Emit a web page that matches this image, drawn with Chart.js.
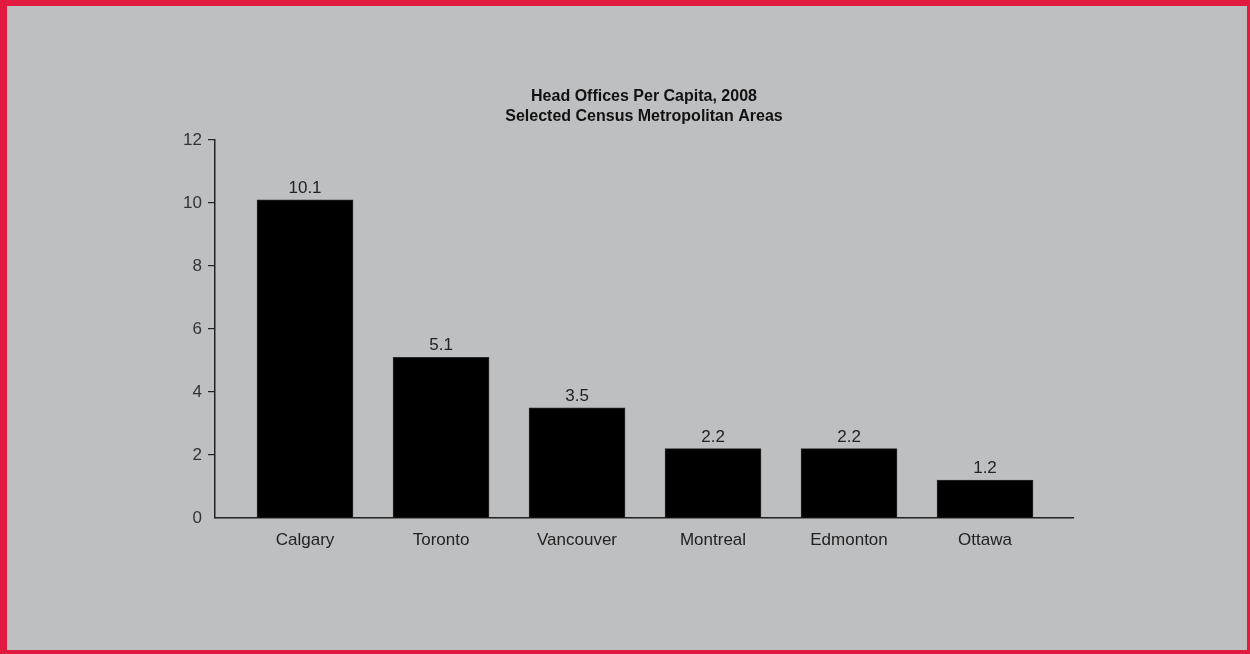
<!DOCTYPE html>
<html lang="en">
<head>
    <meta charset="UTF-8">
    <title>Head Offices Per Capita, 2008</title>
    <script src="https://cdn.jsdelivr.net/npm/chart.js"></script>
    <style>
        body {
            margin: 0;
            padding: 0;
        }
        #page {
            position: relative;
            width: 1250px;
            height: 654px;
            overflow: hidden;
        }
        #frame {
            position: absolute;
            left: 0;
            top: 0;
            width: 1250px;
            height: 654px;
            box-sizing: border-box;
            border-style: solid;
            border-color: #e31a3f;
            border-width: 6px 3px 4px 7px;
            background: #bebfc1;
        }
        #chart {
            position: absolute;
            left: 0;
            top: 0;
        }
    </style>
</head>
<body>
    <div id="page">
        <div id="frame"></div>
        <canvas id="chart" width="1250" height="654"></canvas>
    </div>

    <script>
        // Head offices per 100,000 people, by CMA
        const cities = ['Calgary', 'Toronto', 'Vancouver', 'Montreal', 'Edmonton', 'Ottawa'];
        const headOffices = [10.1, 5.1, 3.5, 2.2, 2.2, 1.2];
        const yTicks = [0, 2, 4, 6, 8, 10, 12];
        const titleLines = ['Head Offices Per Capita, 2008', 'Selected Census Metropolitan Areas'];

        const labelFont = { family: "'Liberation Sans', Arial, sans-serif", size: 17 };

        // writes each bar's value just above it
        const valueLabels = {
            id: 'valueLabels',
            afterDatasetsDraw(chart) {
                const ctx = chart.ctx;
                const meta = chart.getDatasetMeta(0);
                ctx.save();
                ctx.font = `${labelFont.size}px ${labelFont.family}`;
                ctx.fillStyle = '#222';
                ctx.textAlign = 'center';
                ctx.textBaseline = 'alphabetic';
                meta.data.forEach((bar, i) => {
                    ctx.fillText(headOffices[i].toFixed(1), bar.x, bar.y - 7);
                });
                ctx.restore();
            }
        };

        const ctx = document.getElementById('chart').getContext('2d');
        new Chart(ctx, {
            type: 'bar',
            data: {
                datasets: [{
                    data: headOffices.map((v, i) => ({ x: i, y: v })),
                    backgroundColor: '#000',
                    borderColor: '#2a2a2a',
                    borderWidth: 1,
                    barThickness: 96
                }]
            },
            options: {
                responsive: false,
                animation: false,
                layout: {
                    padding: { left: 0, right: 177, top: 0, bottom: 0 }
                },
                plugins: {
                    legend: { display: false },
                    tooltip: { enabled: false },
                    title: {
                        display: true,
                        fullSize: false, // centre over the plot, not the canvas
                        text: titleLines,
                        color: '#111',
                        font: { family: "'Liberation Sans Narrow', 'Liberation Sans', sans-serif", size: 16, weight: 'bold', lineHeight: 1.25 },
                        padding: { top: 87, bottom: 13 }
                    }
                },
                scales: {
                    x: {
                        type: 'linear',
                        offset: false,
                        min: -0.662,
                        max: 5.647,
                        afterBuildTicks: (scale) => {
                            scale.ticks = cities.map((c, i) => ({ value: i }));
                        },
                        afterFit: (scale) => { scale.height = 136; },
                        ticks: {
                            callback: (value) => cities[value] ?? '',
                            color: '#222',
                            font: labelFont,
                            padding: 12,
                            maxRotation: 0,
                            autoSkip: false
                        },
                        grid: { display: true, offset: false, drawOnChartArea: false, drawTicks: false },
                        border: { display: true, color: '#222', width: 1.5 }
                    },
                    y: {
                        min: 0,
                        max: 12,
                        afterBuildTicks: (scale) => {
                            scale.ticks = yTicks.map(v => ({ value: v }));
                        },
                        afterFit: (scale) => { scale.width = 215; },
                        ticks: {
                            color: '#333',
                            font: labelFont,
                            padding: 6
                        },
                        grid: {
                            drawOnChartArea: false,
                            drawTicks: true,
                            tickLength: 7,
                            color: (c) => c.tick && c.tick.value === 0 ? 'rgba(0,0,0,0)' : '#222',
                            lineWidth: 1.2
                        },
                        border: { display: true, color: '#222', width: 1.5 }
                    }
                }
            },
            plugins: [valueLabels]
        });
    </script>
</body>
</html>
